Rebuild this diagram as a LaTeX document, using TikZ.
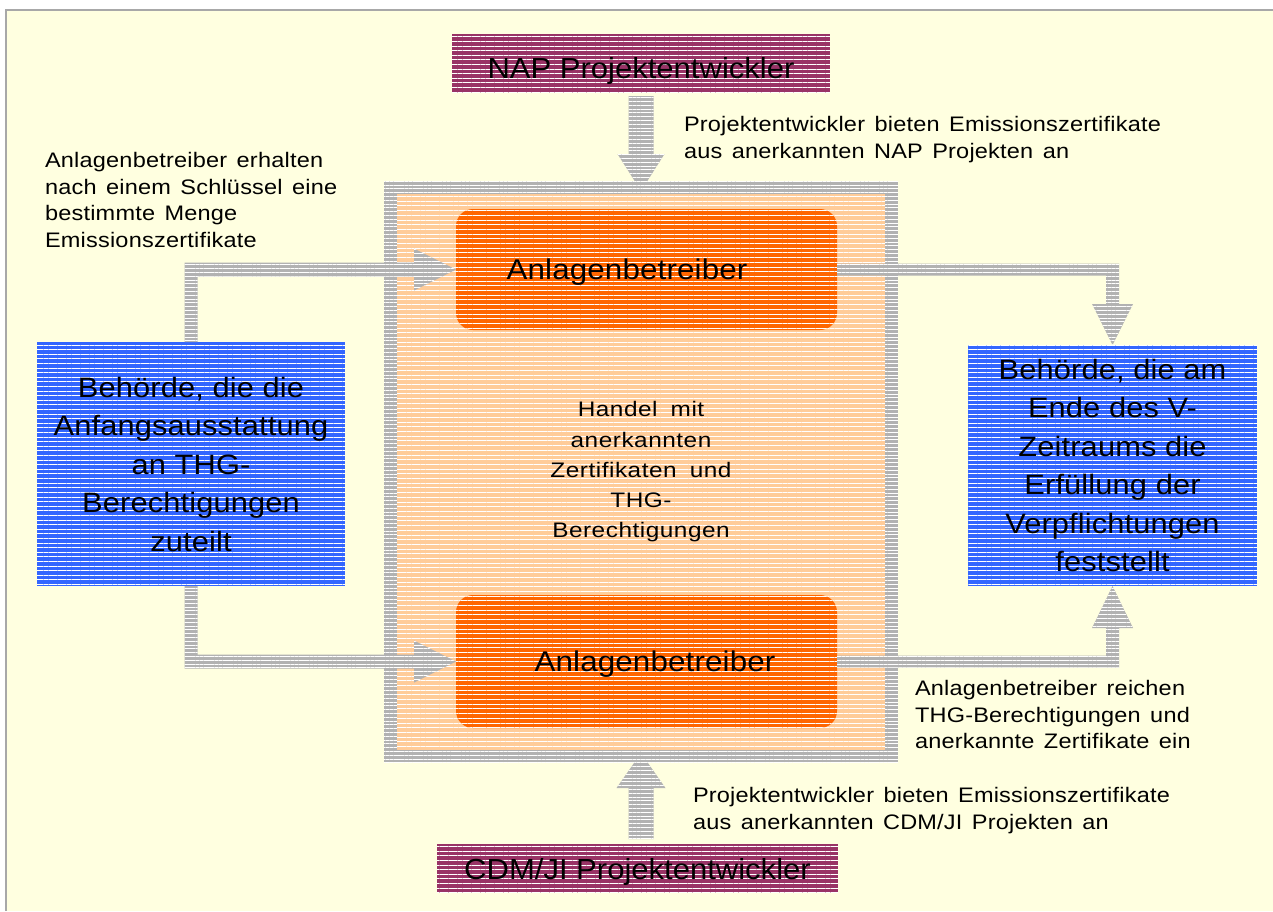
\documentclass[tikz,border=0pt]{standalone}
\usepackage{fontspec}
\setmainfont{Liberation Sans}
\newfontfamily\smallf[FakeStretch=1.12, LetterSpace=1, WordSpace=1.4]{Liberation Sans}
\newfontfamily\centerf[FakeStretch=1.16, LetterSpace=2.5, WordSpace=1.8]{Liberation Sans}
\newfontfamily\bigf[FakeStretch=1.1, LetterSpace=0.5]{Liberation Sans}
\newfontfamily\devf[FakeStretch=1.07]{Liberation Sans}
\usetikzlibrary{patterns.meta,calc}
\definecolor{cBg}{HTML}{FFFFE0}
\definecolor{cBorder}{HTML}{A8A8A8}
\definecolor{cGray}{HTML}{B2B2B2}
\definecolor{cPeach}{HTML}{FFCC99}
\definecolor{cOrange}{HTML}{FF6600}
\definecolor{cBlue}{HTML}{3366FF}
\definecolor{cMaroon}{HTML}{993366}
\begin{document}
\begin{tikzpicture}[x=1pt,y=-1pt,
  stripes/.style={postaction={pattern={Lines[angle=0,distance=#1,line width=1pt]},pattern color=white}},
  basebox/.style={inner sep=0pt, outer sep=0pt, align=center},
  bluebox/.style={basebox, fill=cBlue, stripes=4.6pt,
    font=\bigf\fontsize{28}{38.5}\selectfont},
  dev/.style={basebox, fill=cMaroon, stripes=4.6pt, text height=21pt, text depth=0pt,
    font=\devf\fontsize{29}{34}\selectfont},
  operator/.style={inner sep=0pt, outer sep=0pt, fill=cOrange, stripes=4.7pt, rounded corners=17pt,
    minimum width=381pt, text height=20pt, text depth=0pt,
    font=\bigf\fontsize{28.5}{34}\selectfont},
  lbl/.style={inner sep=0pt, outer sep=0pt, align=left, anchor=north west,
    font=\smallf\fontsize{21}{26.6}\selectfont},
  conn/.style={fill=cGray, stripes=3.8pt}
]
\useasboundingbox (0,0) rectangle (1273,911);
% background
\fill[white] (0,0) rectangle (1273,911);
\fill[cBg] (5,9) rectangle (1273,911);
\draw[cBorder, line width=2pt] (6,911) -- (6,9.5) -- (1273,9.5);

% market frame
\node[basebox, fill=cGray, stripes=3.8pt, minimum width=514pt, minimum height=581pt] (frame) at (641,471.5) {};
\node[basebox, fill=cPeach, stripes=4.7pt, minimum width=488pt, minimum height=556pt,
  font=\centerf\fontsize{21}{30.25}\selectfont] (market) at (641,472)
  {Handel mit\\anerkannten\\Zertifikaten und\\THG-\\Berechtigungen};

% developers
\node[dev, minimum width=378pt, minimum height=59pt, text height=29pt] (nap) at (641,63.5) {NAP Projektentwickler};
\node[dev, minimum width=401pt, minimum height=49pt] (cdm) at (637.5,868.5) {CDM/JI Projektentwickler};

% authorities
\node[bluebox, minimum width=308pt, minimum height=244pt] (lb) at (191,464)
  {Behörde, die die\\Anfangsausstattung\\an THG-\\Berechtigungen\\zuteilt};
\node[bluebox, minimum width=289pt, minimum height=241pt] (rb) at (1112.5,465.5)
  {Behörde, die am\\Ende des V-\\Zeitraums die\\Erfüllung der\\Verpflichtungen\\feststellt};

% connectors
% NAP -> frame
\coordinate (t1) at ($(nap.south)+(0,3)$);
\coordinate (t2) at ($(frame.north)+(0,10)$);
\fill[conn] ($(t1)+(-12.5,0)$) -- ($(t2)+(-12.5,-37)$) -- ($(t2)+(-23.5,-37)$) -- (t2)
  -- ($(t2)+(23.5,-37)$) -- ($(t2)+(12.5,-37)$) -- ($(t1)+(12.5,0)$) -- cycle;
% CDM -> frame
\coordinate (b1) at ($(frame.south |- cdm.north)+(0,-5)$);
\coordinate (b2) at ($(frame.south)+(0,-9)$);
\fill[conn] ($(b1)+(-12.5,0)$) -- ($(b2)+(-12.5,35)$) -- ($(b2)+(-24.5,35)$) -- (b2)
  -- ($(b2)+(24.5,35)$) -- ($(b2)+(12.5,35)$) -- ($(b1)+(12.5,0)$) -- cycle;

% operators
\node[operator, minimum height=121pt] (ta) at (646.5,269.5) {\hspace*{-39pt}Anlagenbetreiber};
\node[operator, minimum height=133pt] (ba) at (646.5,661.5) {\hspace*{17pt}Anlagenbetreiber};

% left authority -> top operator
\coordinate (la) at (lb.north);
\coordinate (lt) at (ta.west);
\fill[conn] ($(la)+(-6.5,0)$) -- ($(la |- lt)+(-6.5,-7)$) -- ($(lt)+(-42,-7)$) -- ($(lt)+(-42,-21)$)
  -- (lt) -- ($(lt)+(-42,21)$) -- ($(lt)+(-42,7)$) -- ($(la |- lt)+(6.5,7)$) -- ($(la)+(6.5,0)$) -- cycle;
% left authority -> bottom operator
\coordinate (lc) at (lb.south);
\coordinate (lu) at (ba.west);
\fill[conn] ($(lc)+(-6.5,0)$) -- ($(lc |- lu)+(-6.5,7)$) -- ($(lu)+(-42,7)$) -- ($(lu)+(-42,21)$)
  -- (lu) -- ($(lu)+(-42,-21)$) -- ($(lu)+(-42,-7)$) -- ($(lc |- lu)+(6.5,-7)$) -- ($(lc)+(6.5,0)$) -- cycle;
% top operator -> right authority
\coordinate (rs) at (ta.east);
\coordinate (rt) at (rb.north);
\fill[conn] ($(rs)+(0,-6)$) -- ($(rt |- rs)+(6.5,-6)$) -- ($(rt)+(6.5,-41)$) -- ($(rt)+(20.5,-41)$)
  -- (rt) -- ($(rt)+(-20.5,-41)$) -- ($(rt)+(-6.5,-41)$) -- ($(rt |- rs)+(-6.5,6)$) -- ($(rs)+(0,6)$) -- cycle;
% bottom operator -> right authority
\coordinate (us) at (ba.east);
\coordinate (ut) at (rb.south);
\fill[conn] ($(us)+(0,6)$) -- ($(ut |- us)+(6.5,6)$) -- ($(ut)+(6.5,42)$) -- ($(ut)+(20.5,42)$)
  -- (ut) -- ($(ut)+(-20.5,42)$) -- ($(ut)+(-6.5,42)$) -- ($(ut |- us)+(-6.5,-6)$) -- ($(us)+(0,-6)$) -- cycle;

% labels
\node[lbl] (lnap) at (684,116.5) {Projektentwickler bieten Emissionszertifikate\\aus anerkannten NAP Projekten an};
\node[lbl] (lalloc) at (45,152.5) {Anlagenbetreiber erhalten\\nach einem Schlüssel eine\\bestimmte Menge\\Emissionszertifikate};
\node[lbl] (lsubmit) at (915,680.5) {Anlagenbetreiber reichen\\THG-Berechtigungen und\\anerkannte Zertifikate ein};
\node[lbl] (lcdm) at (693,787.5) {Projektentwickler bieten Emissionszertifikate\\aus anerkannten CDM/JI Projekten an};
\end{tikzpicture}
\end{document}
